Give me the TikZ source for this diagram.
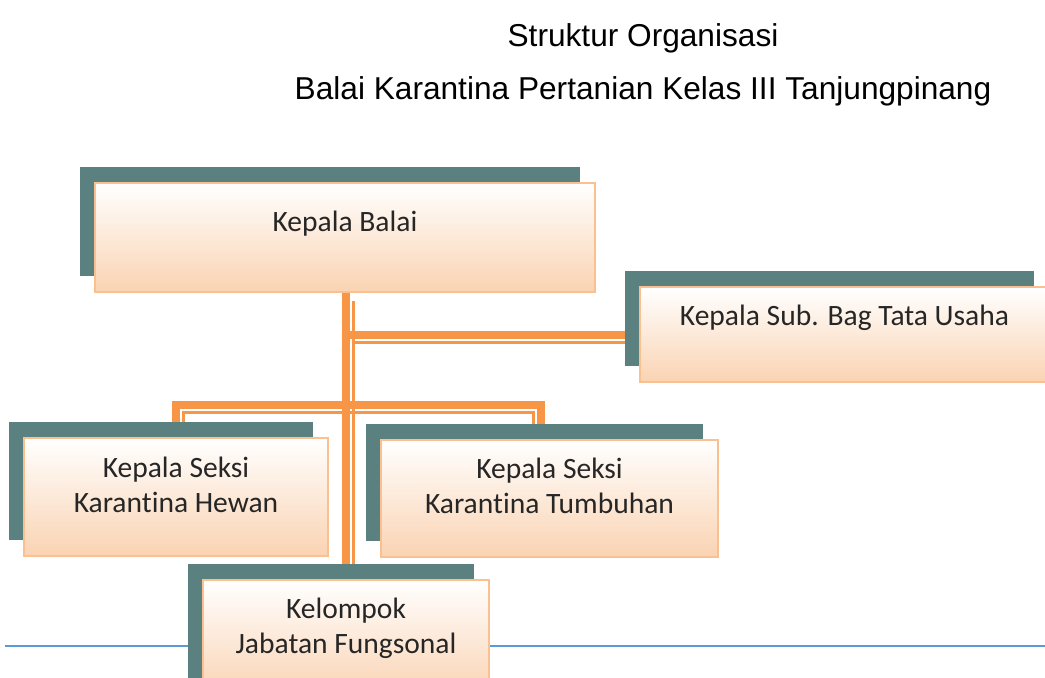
\documentclass[tikz,border=0pt]{standalone}
\usepackage{fontspec}
\setmainfont{Carlito}[Ligatures=NoCommon]
\newfontfamily\titlefont{Liberation Sans}
\usepackage{tikz}
\usetikzlibrary{shapes,arrows,shadows,backgrounds}
\definecolor{lineorange}{HTML}{F79646}
\definecolor{boxedge}{HTML}{FAC090}
\definecolor{boxpeach}{HTML}{FAD3B2}
\definecolor{shadowteal}{RGB}{90,128,128}
\definecolor{ruleblue}{HTML}{5B9BD5}
\tikzstyle{block} = [rectangle, draw=boxedge, line width=0.06cm, align=center,
    top color=white, bottom color=boxpeach, text=black!85,
    font=\fontsize{21}{24.9}\selectfont,
    general shadow={fill=shadowteal, shadow xshift=-0.38cm, shadow yshift=0.4cm}]
\tikzstyle{line} = [draw=lineorange, line width=0.2cm]
\tikzstyle{thin_r} = [postaction={draw=lineorange, line width=0.075cm,
    transform canvas={shift={(0.19cm,-0.19cm)}}}]
\tikzstyle{thin_l} = [postaction={draw=lineorange, line width=0.075cm,
    transform canvas={shift={(-0.19cm,-0.19cm)}}}]
\tikzstyle{title} = [font=\titlefont\fontsize{22.5}{26}\selectfont]

\begin{document}
\begin{tikzpicture}[x=0.025cm, y=-0.025cm]
    \useasboundingbox (0,0) rectangle (1045,677);
    % Title
    \node [title] (t1) at (643,38) {Struktur Organisasi};
    \node [title] (t2) at (643,91) {Balai Karantina Pertanian Kelas III Tanjungpinang};

    % Place nodes
    \node [block, minimum width=12.5cm, minimum height=2.72cm, text depth=0.82cm] (1) at (345,237.5) {Kepala Balai};
    \node [block, minimum width=10.22cm, minimum height=2.37cm, text depth=0.96cm] (2) at (844.5,334.5) {Kepala Sub. Bag Tata Usaha};
    \node [block, minimum width=7.6cm, minimum height=2.95cm, text depth=0.63cm] (3) at (176,497) {Kepala Seksi\\Karantina Hewan};
    \node [block, minimum width=8.42cm, minimum height=2.92cm, text depth=0.63cm] (4) at (549.5,498.5) {Kepala Seksi\\Karantina Tumbuhan};
    \node [block, minimum width=7.15cm, minimum height=2.92cm, text depth=0.63cm] (5) at (346,638.5) {Kelompok\\Jabatan Fungsonal};
    \coordinate (j) at (345,404.5);

    % Draw edges
    \begin{scope}[on background layer]
    \draw [ruleblue, line width=0.05cm] (5,645.5) -- (1045,645.5);
    \path [line, thin_r] (5.north) -- (5.north |- 1.south);
    \path [line, thin_r] (1.south |- 2.west) -- (2.west);
    \path [line, thin_r] (3.north) |- (j);
    \path [line, thin_l] ([xshift=-0.21cm]4.north) |- (j);
    \end{scope}
\end{tikzpicture}
\end{document}
